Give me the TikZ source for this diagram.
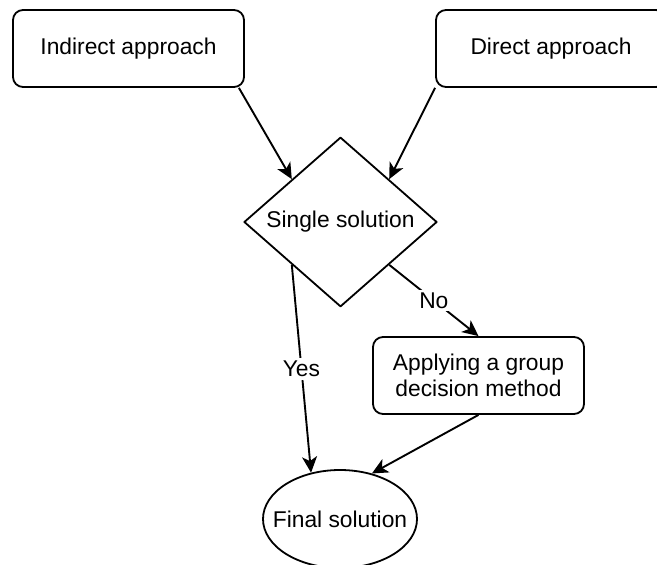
\documentclass[tikz,border=0pt]{standalone}
\usepackage{fontspec}
\setmainfont{Liberation Sans}
\usetikzlibrary{arrows.meta,shapes.geometric}
\definecolor{FlowInk}{gray}{0}
\tikzset{
    flow/diagram/.style={
        x=0.5pt, y=-0.5pt,
        font=\fontsize{11.4}{13}\selectfont,
        color=FlowInk,
        line width=0.9pt,
        line join=round,
        >=Stealth
    },
    flow/box/.style={
        draw=FlowInk, rounded corners=5pt, align=center,
        minimum width=115.5pt, minimum height=38.5pt, inner sep=2pt
    },
    flow/decision/.style={
        draw=FlowInk, diamond, minimum width=96.5pt, minimum height=78pt,
        inner sep=0pt
    },
    flow/terminal/.style={
        draw=FlowInk, ellipse, minimum width=77pt, minimum height=49pt,
        inner xsep=-9.5pt, inner ysep=0pt
    },
    flow/arrow/.style={
        draw=FlowInk, line width=0.95pt,
        -{Stealth[length=8pt, width=7.5pt, inset=2.2pt]}
    },
    flow/label/.style={fill=white, inner sep=1.5pt}
}
\begin{document}
\begin{tikzpicture}[flow/diagram]
    \clip (0,0) rectangle (657,565);
    \node[flow/box] (indirect) at (128.5,48.5) {Indirect approach};
    \node[flow/box, minimum width=115pt] (direct) at (551,48.5) {Direct approach};
    \node[flow/decision] (single) at (340.5,222) {Single solution};
    \node[flow/box, minimum width=105.5pt] (group) at (478.5,375.5)
        {Applying a group\\decision method};
    \node[flow/terminal] (final) at (340,519) {Final solution};

    \draw[flow/arrow] ([xshift=-3pt]indirect.south east) -- (single.north west);
    \draw[flow/arrow] (direct.south west) -- (single.north east);
    \draw[flow/arrow] (single.south west) -- node[flow/label] {Yes} (final.122);
    \draw[flow/arrow] (single.south east) -- node[flow/label] {No} (group.north);
    \draw[flow/arrow] (group.south) -- (final.55);
\end{tikzpicture}
\end{document}
